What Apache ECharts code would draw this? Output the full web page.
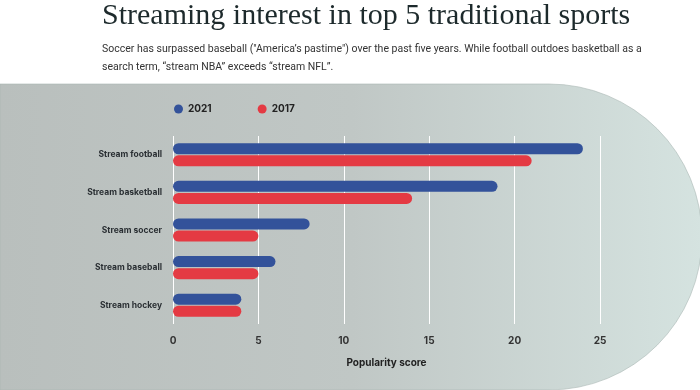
<!DOCTYPE html>
<html><head><meta charset="utf-8">
<script src="https://cdn.jsdelivr.net/npm/echarts@6/dist/echarts.min.js"></script>
<style>html,body{margin:0;padding:0;background:#fff;}#c{width:700px;height:390px;}</style>
</head><body><div id="c"></div>
<script>
var categories = ['Stream football','Stream basketball','Stream soccer','Stream baseball','Stream hockey'];
var values2021 = [24, 19, 8, 6, 4];
var values2017 = [21, 14, 5, 5, 4];
var xTicks = [0, 5, 10, 15, 20, 25];

var chart = echarts.init(document.getElementById('c'));
chart.setOption({
  animation: false,
  graphic: [
    { type: 'rect', z: -10, shape: { x: 0, y: 84, width: 702, height: 306, r: [0, 153, 153, 0] },
      style: { fill: new echarts.graphic.LinearGradient(0, 0, 1, 0, [
        { offset: 0, color: '#b9bfbd' }, { offset: 0.5, color: '#c0c7c5' }, { offset: 1, color: '#d5e3e0' }]),
        stroke: '#a9b7b4', lineWidth: 0.6 } },
    { type: 'text', left: 102, top: 1, style: { text: 'Streaming interest in top 5 traditional sports',
        font: '30px "Liberation Serif", serif', fill: '#1d2a2c' } },
    { type: 'text', left: 102, top: 40, style: { text: 'Soccer has surpassed baseball ("America\u2019s pastime") over the past five years. While football outdoes basketball as a\nsearch term, \u201cstream NBA\u201d exceeds \u201cstream NFL\u201d.',
        font: '10.5px "Roboto", sans-serif', fill: '#333', lineHeight: 18 } }
  ],
  legend: {
    left: 169, top: 99, itemWidth: 9, itemHeight: 9, itemGap: 46, icon: 'circle',
    textStyle: { fontFamily: 'Inter', fontWeight: 'bold', fontSize: 10, color: '#222' },
    data: ['2021', '2017']
  },
  grid: { left: 173, right: 100, top: 136, bottom: 66, containLabel: false },
  xAxis: {
    type: 'value', min: 0, max: 25, interval: 5,
    name: 'Popularity score', nameLocation: 'middle', nameGap: 34,
    nameTextStyle: { fontFamily: 'Inter', fontWeight: 'bold', fontSize: 10, color: '#222' },
    axisLine: { show: false }, axisTick: { show: false },
    axisLabel: { fontFamily: 'Inter', fontWeight: 'bold', fontSize: 10, color: '#333', margin: 12,
      formatter: function (v) { return xTicks.indexOf(v) >= 0 ? String(v) : ''; } },
    splitLine: { lineStyle: { color: '#ffffff', width: 1 } }
  },
  yAxis: {
    type: 'category', data: categories, inverse: true,
    axisLine: { show: false }, axisTick: { show: false },
    axisLabel: { fontFamily: 'Inter', fontWeight: 'bold', fontSize: 8.5, color: '#2a2f33', margin: 11 }
  },
  series: [
    { name: '2021', type: 'bar', data: values2021, barWidth: 11, barGap: '10%',
      itemStyle: { color: '#33529a', borderRadius: 6 } },
    { name: '2017', type: 'bar', data: values2017, barWidth: 11,
      itemStyle: { color: '#e43a43', borderRadius: 6 } }
  ]
});
</script></body></html>
